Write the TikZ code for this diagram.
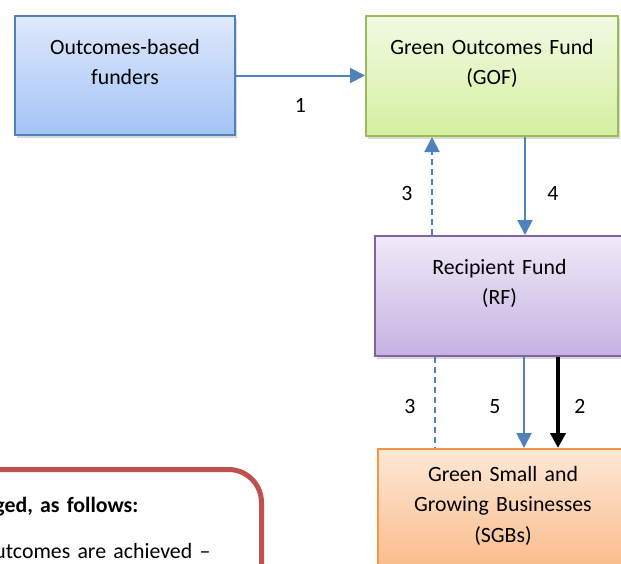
\documentclass[tikz,border=0pt]{standalone}
\usepackage{fontspec}
\setmainfont{Carlito}
\usetikzlibrary{arrows.meta,shadows}
\definecolor{linkblue}{RGB}{79,129,189}
\definecolor{noteRed}{RGB}{192,80,77}

\begin{document}
\begin{tikzpicture}[x=0.5pt,y=-0.5pt,>={Triangle[length=7.5pt,width=7.5pt]},
font=\fontsize{10.9}{15.25}\selectfont,
caja/.style ={rectangle, anchor=north west, line width=1pt, text width=#1, align=center, inner xsep=0pt, inner ysep=0pt, text height=19pt, text depth=41pt, drop shadow={shadow xshift=1.2pt,shadow yshift=-1.5pt,opacity=.3}},
funder/.style ={caja=110pt, draw=linkblue, top color={rgb,255:red,222;green,233;blue,251}, bottom color={rgb,255:red,163;green,195;blue,245}, text depth=40.5pt},
gof/.style ={caja=126pt, draw={rgb,255:red,155;green,187;blue,89}, top color={rgb,255:red,242;green,250;blue,228}, bottom color={rgb,255:red,212;green,240;blue,158}},
rf/.style ={caja=124.5pt, draw={rgb,255:red,128;green,100;blue,162}, top color={rgb,255:red,239;green,233;blue,247}, bottom color={rgb,255:red,198;green,178;blue,226}},
sgb/.style ={caja=125pt, draw={rgb,255:red,247;green,150;blue,70}, top color={rgb,255:red,253;green,232;blue,214}, bottom color={rgb,255:red,250;green,188;blue,138}, text height=16pt, text depth=44pt},
nota/.style ={rectangle, anchor=north east, draw=noteRed, line width=2.5pt, rounded corners=16.5pt, text width=110pt, align=left, inner xsep=23.5pt, inner ysep=0pt, text height=21.5pt, text depth=98.5pt},
flujo/.style ={->, draw=linkblue, line width=1pt},
retorno/.style ={draw=linkblue, line width=1pt, dash pattern=on 3pt off 2pt},
pago/.style ={->, line width=2pt}
]
\useasboundingbox (0,0) rectangle (621,563);
\clip (0,0) rectangle (621,563);
\draw (14,15) node[funder] (F) {Outcomes-based\\funders};
\draw (365,15) node[gof] (G) {Green Outcomes Fund\\(GOF)};
\draw (374,235) node[rf] (R) {Recipient Fund\\(RF)};
\draw (377,448) node[sgb] (S) {Green Small and\\Growing Businesses\\(SGBs)};
\draw (264,467) node[nota] (N) {\textbf{ged, as follows:}\\[7.75pt]utcomes are achieved –};
\draw[flujo] (F.east) -- (F.east -| G.west) node[midway,yshift=-15pt,text=black] {1};
\draw[retorno,->] ([xshift=-33.75pt]R.north) -- ([xshift=-33.75pt]R.north |- G.south) node[pos=.42,xshift=-12.5pt,text=black] {3};
\draw[flujo] ([xshift=16.5pt]G.south) -- ([xshift=16.5pt]G.south |- R.north) node[pos=.58,xshift=14pt,text=black] {4};
\draw[retorno] ([xshift=-32.25pt]R.south) -- ([xshift=-32.25pt]R.south |- S.north) node[pos=.54,xshift=-12.5pt,text=black] {3};
\draw[flujo] ([xshift=12.25pt]R.south) -- ([xshift=12.25pt]R.south |- S.north) node[pos=.54,xshift=-14.5pt,text=black] {5};
\draw[pago] ([xshift=29.25pt]R.south) -- ([xshift=29.25pt]R.south |- S.north) node[pos=.54,xshift=11pt] {2};

\end{tikzpicture}
\end{document}
